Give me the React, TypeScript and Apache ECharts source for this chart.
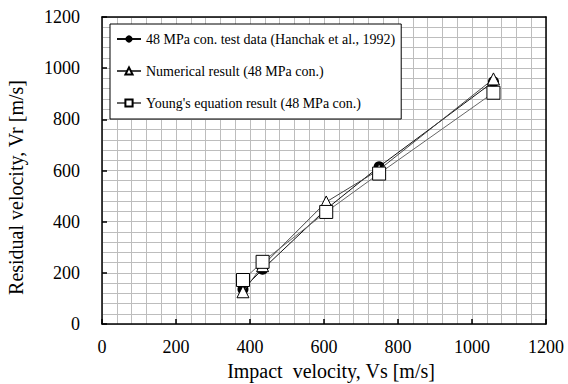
import React, { useEffect, useRef } from "react";
import * as echarts from "echarts";

const testVs = [381, 434, 606, 749, 1058];
const testVr = [136, 214, 449, 615, 947];
const numVs = [381, 434, 606, 749, 1058];
const numVr = [126, 228, 477, 603, 958];
const youngVs = [381, 434, 606, 749, 1058];
const youngVr = [172, 243, 438, 588, 904];

const seriesNames = [
  "48 MPa con. test data (Hanchak et al., 1992)",
  "Numerical result (48 MPa con.)",
  "Young's equation result (48 MPa con.)",
];

const FONT = "'Liberation Serif', 'Times New Roman', Times, serif";

function pairs(xs: number[], ys: number[]) {
  return xs.map((x, i) => [x, ys[i]]);
}

export default function App() {
  const ref = useRef<HTMLDivElement>(null);
  useEffect(() => {
    if (!ref.current) return;
    const chart = echarts.init(ref.current, null, { renderer: "svg" });
    const gridLine = { show: true, lineStyle: { color: "#bdbdbd", width: 1 } };
    const plain = (v: number) => String(v);
    chart.setOption({
      animation: false,
      backgroundColor: "#fff",
      textStyle: { fontFamily: FONT },
      grid: { left: 102, right: 22, top: 17, bottom: 60, outerBoundsMode: "none" },
      xAxis: [
        {
          type: "value",
          min: 0,
          max: 1200,
          interval: 200,
          name: "Impact  velocity, Vs [m/s]",
          nameLocation: "middle",
          nameGap: 36,
          nameTextStyle: { fontFamily: FONT, fontSize: 20, color: "#000", padding: [0, 0, 0, 14] },
          axisLine: { show: true, onZero: false, lineStyle: { color: "#000", width: 1.5 } },
          axisTick: { show: true, inside: true, length: 5, lineStyle: { color: "#000", width: 1.5 } },
          axisLabel: { fontFamily: FONT, fontSize: 18, color: "#000", margin: 14, formatter: plain },
          splitLine: gridLine,
          minorTick: { show: false, splitNumber: 5 },
          minorSplitLine: gridLine,
        },
        {
          type: "value",
          position: "top",
          min: 0,
          max: 1200,
          interval: 200,
          axisLine: { show: true, onZero: false, lineStyle: { color: "#000", width: 1.5 } },
          axisTick: { show: false },
          axisLabel: { show: false },
          splitLine: { show: false },
        },
      ],
      yAxis: [
        {
          type: "value",
          min: 0,
          max: 1200,
          interval: 200,
          name: "Residual velocity, Vr [m/s]",
          nameLocation: "middle",
          nameGap: 76,
          nameRotate: 90,
          nameTextStyle: { fontFamily: FONT, fontSize: 20, color: "#000", padding: [0, 34, 0, 0] },
          axisLine: { show: true, onZero: false, lineStyle: { color: "#000", width: 1.5 } },
          axisTick: { show: true, inside: true, length: 5, lineStyle: { color: "#000", width: 1.5 } },
          axisLabel: { fontFamily: FONT, fontSize: 18, color: "#000", margin: 22, formatter: plain },
          splitLine: gridLine,
          minorTick: { show: false, splitNumber: 5 },
          minorSplitLine: gridLine,
        },
        {
          type: "value",
          position: "right",
          min: 0,
          max: 1200,
          interval: 200,
          axisLine: { show: true, onZero: false, lineStyle: { color: "#000", width: 1.5 } },
          axisTick: { show: false },
          axisLabel: { show: false },
          splitLine: { show: false },
        },
      ],
      legend: {
        orient: "vertical",
        left: 110,
        top: 24,
        backgroundColor: "#fff",
        borderColor: "#000",
        borderWidth: 1,
        borderRadius: 0,
        padding: [8, 6, 9, 6],
        itemWidth: 24,
        itemHeight: 9,
        itemGap: 18,
        textStyle: { fontFamily: FONT, fontSize: 14, color: "#000" },
        data: seriesNames,
      },
      series: [
        {
          name: seriesNames[0],
          type: "line",
          data: pairs(testVs, testVr),
          symbol: "circle",
          symbolSize: 11,
          itemStyle: { color: "#000" },
          lineStyle: { color: "#111", width: 1 },
          z: 2,
        },
        {
          name: seriesNames[1],
          type: "line",
          data: pairs(numVs, numVr),
          symbol: "triangle",
          symbolSize: 12,
          itemStyle: { color: "#fff", borderColor: "#000", borderWidth: 1 },
          lineStyle: { color: "#444", width: 1 },
          z: 3,
        },
        {
          name: seriesNames[2],
          type: "line",
          data: pairs(youngVs, youngVr),
          symbol: "rect",
          symbolSize: 13,
          itemStyle: { color: "#fff", borderColor: "#000", borderWidth: 1 },
          lineStyle: { color: "#666", width: 1 },
          z: 4,
        },
      ],
    });
    return () => chart.dispose();
  }, []);
  return (
    <div
      ref={ref}
      style={{ position: "fixed", left: 0, top: 0, width: 568, height: 384, background: "#fff" }}
    />
  );
}
